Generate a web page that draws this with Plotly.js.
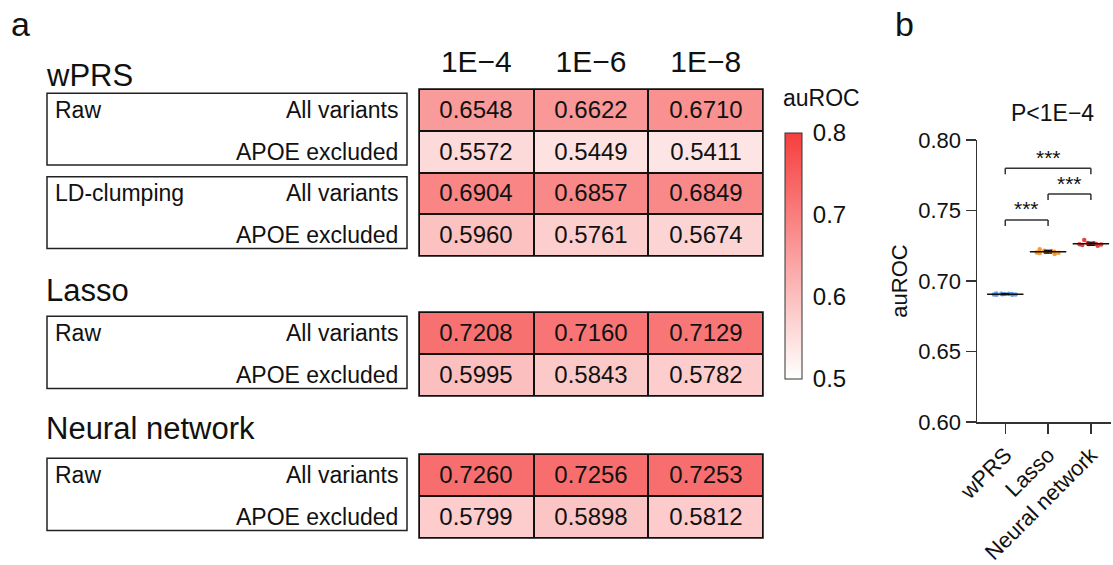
<!DOCTYPE html>
<html>
<head>
<meta charset="utf-8">
<script src="https://cdn.plot.ly/plotly-3.0.1.min.js"></script>
<style>html,body{margin:0;padding:0;background:#fff;}#chart{width:1113px;height:565px;}</style>
</head>
<body>
<div id="chart"></div>
<script>
// ---------- data ----------
const thresholds = ['1E\u22124', '1E\u22126', '1E\u22128'];
const groupTitles = ['wPRS', 'Lasso', 'Neural network'];
const variantLabels = ['All variants', 'APOE excluded'];
const wprsMethods = ['Raw', 'LD-clumping'];
const lassoMethods = ['Raw'];
const nnMethods = ['Raw'];

const wprsRawAll   = [0.6548, 0.6622, 0.6710];
const wprsRawApoe  = [0.5572, 0.5449, 0.5411];
const wprsLdAll    = [0.6904, 0.6857, 0.6849];
const wprsLdApoe   = [0.5960, 0.5761, 0.5674];
const lassoAll     = [0.7208, 0.7160, 0.7129];
const lassoApoe    = [0.5995, 0.5843, 0.5782];
const nnAll        = [0.7260, 0.7256, 0.7253];
const nnApoe       = [0.5799, 0.5898, 0.5812];

const modelNames = ['wPRS', 'Lasso', 'Neural network'];
const wprsCv  = [0.6902, 0.6905, 0.6908, 0.6910, 0.6907, 0.6903, 0.6912, 0.6906, 0.6909, 0.6904];
const lassoCv = [0.7198, 0.7203, 0.7210, 0.7226, 0.7215, 0.7206, 0.7192, 0.7212, 0.7200, 0.7208];
const nnCv    = [0.7258, 0.7262, 0.7265, 0.7290, 0.7270, 0.7255, 0.7250, 0.7268, 0.7260, 0.7263];
const pairs = [[0, 1], [1, 2], [0, 2]];
const bracketY = [0.7433, 0.7617, 0.7800];
const pairLabels = ['***', '***', '***'];
const pText = 'P<1E\u22124';

// ---------- styles ----------
const FONT = 'Liberation Sans, Arial, Helvetica, sans-serif';
const INK = '#111';
const colorscale = [[0, 'rgb(255,255,255)'], [1, 'rgb(246,62,62)']];
const ptColors = ['#4f97e6', '#f5901e', '#ee2a2a'];

const blocks = [
  {ya: 'y',  methods: wprsMethods,  z: [wprsRawAll, wprsRawApoe, wprsLdAll, wprsLdApoe]},
  {ya: 'y2', methods: lassoMethods, z: [lassoAll, lassoApoe]},
  {ya: 'y3', methods: nnMethods,    z: [nnAll, nnApoe]}
];

const traces = [];
const shapes = [];
const annotations = [];

blocks.forEach((b, bi) => {
  const rows = b.z.map((_, i) => i);
  traces.push({
    type: 'heatmap', x: thresholds, y: rows, z: b.z,
    xaxis: 'x', yaxis: b.ya,
    zmin: 0.5, zmax: 0.8, colorscale: colorscale,
    xgap: 2, ygap: 2,
    texttemplate: '%{z:.4f}', textfont: {size: 24, color: INK, family: FONT},
    showscale: bi === 0,
    colorbar: bi === 0 ? {
      x: 785 / 1113, xanchor: 'left', xpad: 0,
      y: 1 - 133 / 565, yanchor: 'top', ypad: 0,
      len: 246, lenmode: 'pixels', thickness: 17, thicknessmode: 'pixels',
      outlinewidth: 1, outlinecolor: '#333',
      tickvals: [0.5, 0.6, 0.7, 0.8], tickformat: '.1f',
      ticks: 'outside', ticklen: 6, tickcolor: 'rgba(255,255,255,0)',
      tickfont: {size: 24, color: INK, family: FONT}
    } : undefined,
    hoverinfo: 'x+y+z'
  });
  const dref = b.ya + ' domain';
  shapes.push({type: 'rect', xref: 'x domain', yref: dref, x0: 0, x1: 1, y0: 0, y1: 1,
    fillcolor: '#111', line: {width: 0}, layer: 'below'});
  shapes.push({type: 'rect', xref: 'x domain', yref: dref, x0: 0, x1: 1, y0: 0, y1: 1,
    fillcolor: 'rgba(0,0,0,0)', line: {width: 1.5, color: '#111'}, layer: 'above'});
  b.methods.forEach((m, mi) => {
    const start = mi * 2;
    shapes.push({type: 'rect', xref: 'paper', yref: b.ya, x0: 47 / 1113, x1: 407 / 1113,
      y0: start - 0.4, y1: start + 1.32, line: {width: 1.5, color: '#222'}, fillcolor: 'rgba(0,0,0,0)'});
    annotations.push({xref: 'paper', yref: b.ya, x: 53 / 1113, y: start, text: m,
      xanchor: 'left', yanchor: 'middle', showarrow: false, font: {size: 23, color: INK, family: FONT}});
    variantLabels.forEach((v, vi) => {
      annotations.push({xref: 'paper', yref: b.ya, x: 400 / 1113, y: start + vi, text: v,
        xanchor: 'right', yanchor: 'middle', showarrow: false, font: {size: 23, color: INK, family: FONT}});
    });
  });
});

const titleY = [76, 290, 428];
groupTitles.forEach((t, i) => {
  annotations.push({xref: 'paper', yref: 'paper', x: 44 / 1113, y: 1 - titleY[i] / 565, text: t,
    xanchor: 'left', yanchor: 'middle', showarrow: false, font: {size: 31, color: INK, family: FONT}});
});
annotations.push({xref: 'paper', yref: 'paper', x: 781 / 1113, y: 1 - 98 / 565, text: 'auROC',
  xanchor: 'left', yanchor: 'middle', showarrow: false, font: {size: 23, color: INK, family: FONT}});
annotations.push({xref: 'paper', yref: 'paper', x: 9 / 1113, y: 1 - 24 / 565, text: 'a',
  xanchor: 'left', yanchor: 'middle', showarrow: false, font: {size: 34, color: INK, family: FONT}});
annotations.push({xref: 'paper', yref: 'paper', x: 893 / 1113, y: 1 - 24 / 565, text: 'b',
  xanchor: 'left', yanchor: 'middle', showarrow: false, font: {size: 34, color: INK, family: FONT}});

// ---------- panel b ----------
const cvSets = [wprsCv, lassoCv, nnCv];
const means = cvSets.map(v => v.reduce((a, c) => a + c, 0) / v.length);
const sds = cvSets.map((v, i) => Math.sqrt(v.reduce((a, c) => a + (c - means[i]) ** 2, 0) / (v.length - 1)));
traces.push({
  type: 'scatter', mode: 'markers', x: modelNames, y: means, xaxis: 'x2', yaxis: 'y4',
  marker: {symbol: 'line-ew', size: 26, color: '#111', line: {width: 1.5, color: '#111'}},
  error_y: {type: 'data', array: sds, visible: true, color: '#111', thickness: 1.2, width: 4},
  hoverinfo: 'x+y'
});
cvSets.forEach((vals, i) => {
  traces.push({
    type: 'box', x: vals.map(() => modelNames[i]), y: vals,
    xaxis: 'x2', yaxis: 'y4',
    boxpoints: 'all', jitter: 0.9, pointpos: 0, width: 0.7,
    marker: {color: ptColors[i], size: 4.5, opacity: 0.9},
    line: {width: 0, color: 'rgba(0,0,0,0)'}, fillcolor: 'rgba(0,0,0,0)',
    whiskerwidth: 0, hoveron: 'points'
  });
});
const drop = 0.0043;
pairs.forEach((p, i) => {
  const xa = modelNames[p[0]], xb = modelNames[p[1]];
  const h = bracketY[i];
  shapes.push({type: 'line', xref: 'x2', yref: 'y4', x0: xa, x1: xb, y0: h, y1: h, line: {width: 1.5, color: '#333'}});
  shapes.push({type: 'line', xref: 'x2', yref: 'y4', x0: xa, x1: xa, y0: h - drop, y1: h, line: {width: 1.5, color: '#333'}});
  shapes.push({type: 'line', xref: 'x2', yref: 'y4', x0: xb, x1: xb, y0: h - drop, y1: h, line: {width: 1.5, color: '#333'}});
  annotations.push({xref: 'x2', yref: 'y4', x: (p[0] + p[1]) / 2, y: h + 0.0078, text: pairLabels[i],
    showarrow: false, xanchor: 'center', yanchor: 'middle', font: {size: 21, color: INK, family: FONT}});
});
annotations.push({xref: 'x2', yref: 'paper', x: 1.1, y: 1 - 113 / 565, text: pText,
  showarrow: false, xanchor: 'center', yanchor: 'middle', font: {size: 23, color: INK, family: FONT}});

const layout = {
  width: 1113, height: 565,
  margin: {l: 0, r: 0, t: 0, b: 0, pad: 0},
  paper_bgcolor: '#fff', plot_bgcolor: '#fff',
  font: {family: FONT, color: INK},
  showlegend: false,
  xaxis: {domain: [419 / 1113, 763 / 1113], anchor: 'y', type: 'category', side: 'top',
    ticks: '', showline: false, showgrid: false, zeroline: false,
    tickfont: {size: 30, color: INK, family: FONT}, ticklabelstandoff: 10},
  yaxis:  {domain: [1 - 256 / 565, 1 - 89 / 565],  range: [3.5, -0.5], showticklabels: false, showgrid: false, zeroline: false, ticks: ''},
  yaxis2: {domain: [1 - 396 / 565, 1 - 312 / 565], range: [1.5, -0.5], showticklabels: false, showgrid: false, zeroline: false, ticks: ''},
  yaxis3: {domain: [1 - 538 / 565, 1 - 454 / 565], range: [1.5, -0.5], showticklabels: false, showgrid: false, zeroline: false, ticks: ''},
  xaxis2: {domain: [977 / 1113, 1111 / 1113], anchor: 'y4', type: 'category',
    categoryorder: 'array', categoryarray: modelNames,
    range: [-0.66, 2.47], tickangle: -45,
    ticks: 'outside', ticklen: 10, tickwidth: 1.5, tickcolor: '#333',
    showline: true, linewidth: 1.5, linecolor: '#333', showgrid: false, zeroline: false,
    tickfont: {size: 22, color: INK, family: FONT}},
  yaxis4: {domain: [1 - 422 / 565, 1 - 140 / 565], anchor: 'x2', range: [0.6, 0.8],
    tickvals: [0.6, 0.65, 0.7, 0.75, 0.8], tickformat: '.2f',
    ticks: 'outside', ticklen: 10, tickwidth: 1.5, tickcolor: '#333',
    showline: true, linewidth: 1.5, linecolor: '#333', showgrid: false, zeroline: false,
    tickfont: {size: 22, color: INK, family: FONT},
    title: {text: 'auROC', font: {size: 22, color: INK, family: FONT}, standoff: 4}},
  shapes: shapes,
  annotations: annotations
};

Plotly.newPlot('chart', traces, layout, {displayModeBar: false, staticPlot: true});
</script>
</body>
</html>
